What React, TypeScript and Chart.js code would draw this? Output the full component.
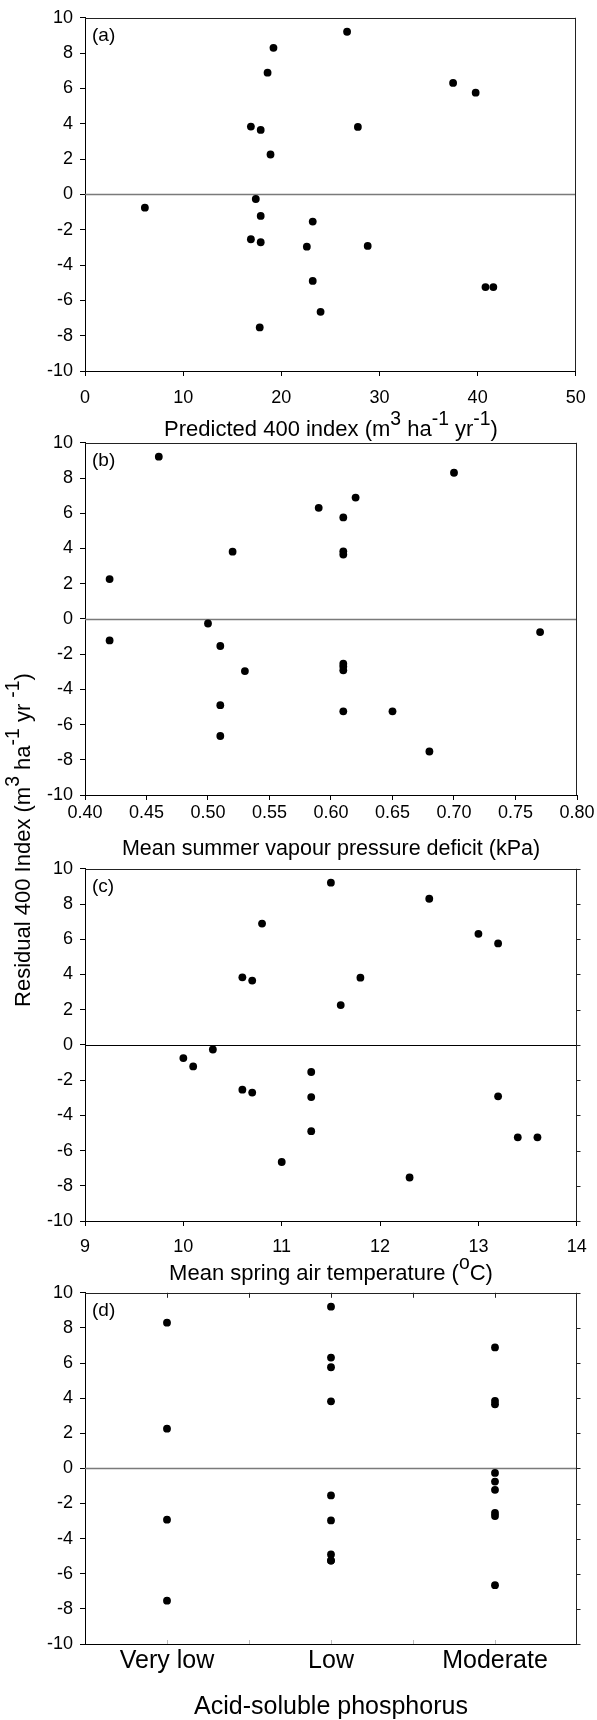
import React, { useEffect, useRef } from "react";
import { Chart, registerables } from "chart.js";

Chart.register(...registerables);

const FONT = "'Liberation Sans', Arial, Helvetica, sans-serif";

// ---- data (22 sites) ----
const residual400 = [9.21, 8.3, 6.89, 6.31, 5.76, 3.84, 3.65, 3.82, 2.26, -0.26, -0.75, -1.22, -1.54, -2.54, -2.71, -2.96, -2.92, -4.9, -5.25, -5.25, -6.65, -7.53];
const predicted400 = [26.7, 19.2, 18.6, 37.5, 39.8, 16.9, 17.9, 27.8, 18.9, 17.4, 6.1, 17.9, 23.2, 16.9, 17.9, 22.6, 28.8, 23.2, 40.8, 41.6, 24.0, 17.8];
const summerVpd = [0.46, 0.7, 0.62, 0.59, 0.61, 0.61, 0.61, 0.52, 0.42, 0.5, 0.77, 0.42, 0.51, 0.61, 0.61, 0.53, 0.61, 0.51, 0.61, 0.65, 0.51, 0.68];
const springTemp = [11.5, 12.5, 10.8, 13.0, 13.2, 10.6, 10.7, 11.8, 11.6, 10.3, 10.0, 10.1, 11.3, 10.6, 10.7, 11.3, 13.2, 11.3, 13.4, 13.6, 11.0, 12.3];
const phosphorusClass = ["Low", "Very low", "Moderate", "Low", "Low", "Moderate", "Moderate", "Low", "Very low", "Moderate", "Moderate", "Moderate", "Low", "Moderate", "Moderate", "Low", "Very low", "Low", "Low", "Low", "Moderate", "Very low"];
const phosphorusCategories = ["Very low", "Low", "Moderate"];

// axis ranges / tick steps
const residualRange = [-10, 10, 2];
const predictedRange = [0, 50, 10];
const vpdRange = [0.4, 0.8, 0.05];
const tempRange = [9, 14, 1];

type Seg = { t: string; sup?: boolean };

const CANVAS_W = 597;
const PLOT_LEFT = 85;
const PLOT_RIGHT = 577;
const TOP_PAD = 16;
const TICK_FONT = 18;

interface PanelSpec {
  label: string;
  xs: (number | string)[];
  category?: boolean;
  range?: number[];
  decimals?: number;
  plotTop: number;
  plotBottom: number;
  tickCenter: number;
  tickSize: number;
  title: Seg[];
  titleBaseline: number;
  titleSize: number;
  zeroColor: string;
  zeroWidth: number;
  rightTicks?: boolean;
  sixthTicks?: boolean;
}

const panels: PanelSpec[] = [
  {
    label: "(a)", xs: predicted400, range: predictedRange, decimals: 0,
    plotTop: 16, plotBottom: 371, tickCenter: 27, tickSize: TICK_FONT,
    title: [{ t: "Predicted 400 index (m" }, { t: "3", sup: true }, { t: " ha" }, { t: "-1", sup: true }, { t: " yr" }, { t: "-1", sup: true }, { t: ")" }],
    titleBaseline: 436, titleSize: 22, zeroColor: "#7a7a7a", zeroWidth: 1.5,
  },
  {
    label: "(b)", xs: summerVpd, range: vpdRange, decimals: 2,
    plotTop: 441, plotBottom: 795, tickCenter: 18, tickSize: TICK_FONT,
    title: [{ t: "Mean summer vapour pressure deficit (kPa)" }],
    titleBaseline: 855, titleSize: 21.5, zeroColor: "#7a7a7a", zeroWidth: 1.5,
  },
  {
    label: "(c)", xs: springTemp, range: tempRange, decimals: 0,
    plotTop: 867, plotBottom: 1221, tickCenter: 26, tickSize: TICK_FONT,
    title: [{ t: "Mean spring air temperature (" }, { t: "o", sup: true }, { t: "C)" }],
    titleBaseline: 1280, titleSize: 22, zeroColor: "#000000", zeroWidth: 1,
    rightTicks: true,
  },
  {
    label: "(d)", xs: phosphorusClass, category: true,
    plotTop: 1291, plotBottom: 1644, tickCenter: 17, tickSize: 25,
    title: [{ t: "Acid-soluble phosphorus" }],
    titleBaseline: 1714, titleSize: 25, zeroColor: "#7a7a7a", zeroWidth: 1.5,
    rightTicks: true, sixthTicks: true,
  },
];

function drawRich(ctx: CanvasRenderingContext2D, segs: Seg[], cx: number, baseline: number, size: number) {
  const supSize = size * 0.88;
  const rise = size * 0.5;
  const widths = segs.map((s) => {
    ctx.font = `${s.sup ? supSize : size}px ${FONT}`;
    return ctx.measureText(s.t).width;
  });
  const total = widths.reduce((a, b) => a + b, 0);
  let x = cx - total / 2;
  ctx.textAlign = "left";
  ctx.textBaseline = "alphabetic";
  ctx.fillStyle = "#000";
  segs.forEach((s, i) => {
    ctx.font = `${s.sup ? supSize : size}px ${FONT}`;
    ctx.fillText(s.t, x, s.sup ? baseline - rise : baseline);
    x += widths[i];
  });
}

function seg(ctx: CanvasRenderingContext2D, x1: number, y1: number, x2: number, y2: number) {
  ctx.beginPath();
  ctx.moveTo(x1, y1);
  ctx.lineTo(x2, y2);
  ctx.stroke();
}

function Panel({ spec }: { spec: PanelSpec }) {
  const ref = useRef<HTMLCanvasElement | null>(null);
  const T = spec.plotTop - TOP_PAD;
  const H = spec.titleBaseline + 10 - T;

  useEffect(() => {
    const canvas = ref.current;
    if (!canvas) return;
    const points = spec.xs.map((x, i) => ({ x, y: residual400[i] }));
    const xAxisHeight = H - (spec.plotBottom - T);
    const tickLen = 5;

    const decor = {
      id: "decor" + spec.label,
      beforeDatasetsDraw(chart: any) {
        const { ctx, chartArea: a, scales } = chart;
        ctx.save();
        const y0 = Math.round(scales.y.getPixelForValue(0)) + 0.5;
        ctx.strokeStyle = spec.zeroColor;
        ctx.lineWidth = spec.zeroWidth;
        seg(ctx, a.left, y0, a.right, y0);
        ctx.strokeStyle = "#222";
        ctx.lineWidth = 1;
        const top = Math.round(a.top) + 0.5;
        const right = Math.round(a.right) - 0.5;
        seg(ctx, a.left, top, a.right, top);
        seg(ctx, right, a.top, right, a.bottom);
        if (spec.rightTicks) {
          for (let v = residualRange[0]; v <= residualRange[1]; v += residualRange[2]) {
            const py = Math.round(scales.y.getPixelForValue(v)) + 0.5;
            seg(ctx, right, py, right + 4, py);
          }
        }
        if (spec.sixthTicks) {
          for (let k = 1; k <= 5; k++) {
            const px = Math.round(a.left + (k * (a.right - a.left)) / 6) + 0.5;
            ctx.strokeStyle = "#222";
            seg(ctx, px, a.top, px, a.top + 5);
            ctx.strokeStyle = "#bbb";
            seg(ctx, px, a.bottom, px, a.bottom - 4);
          }
        }
        ctx.restore();
      },
      afterDraw(chart: any) {
        const { ctx, chartArea: a } = chart;
        ctx.save();
        ctx.font = `19px ${FONT}`;
        ctx.fillStyle = "#000";
        ctx.textAlign = "left";
        ctx.textBaseline = "alphabetic";
        ctx.fillText(spec.label, a.left + 7, a.top + 23);
        drawRich(ctx, spec.title, (PLOT_LEFT + PLOT_RIGHT) / 2, spec.titleBaseline - T, spec.titleSize);
        ctx.restore();
      },
    };

    const lineHalf = (spec.tickSize * 1.2) / 2;
    const xScale: any = spec.category
      ? {
          type: "category",
          labels: phosphorusCategories,
          offset: true,
          grid: { display: false, drawTicks: false },
          border: { display: true, color: "#000", width: 1 },
          ticks: { font: { family: FONT, size: spec.tickSize }, color: "#000", padding: spec.tickCenter - lineHalf, maxRotation: 0, autoSkip: false },
          afterFit: (s: any) => { s.height = xAxisHeight; },
        }
      : {
          type: "linear",
          min: spec.range![0],
          max: spec.range![1],
          grid: { display: true, drawOnChartArea: false, drawTicks: true, tickLength: tickLen, color: "#000", lineWidth: 1 },
          border: { display: true, color: "#000", width: 1 },
          ticks: {
            stepSize: spec.range![2],
            font: { family: FONT, size: spec.tickSize },
            color: "#000",
            padding: spec.tickCenter - tickLen - lineHalf,
            maxRotation: 0,
            autoSkip: false,
            callback: (v: any) => Number(v).toFixed(spec.decimals),
          },
          afterFit: (s: any) => { s.height = xAxisHeight; },
        };

    const chart = new Chart(canvas, {
      type: "scatter",
      data: {
        datasets: [
          {
            data: points as any,
            backgroundColor: "#000",
            borderColor: "#000",
            borderWidth: 0,
            pointRadius: 3.9,
            pointHoverRadius: 3.9,
            pointStyle: "circle",
          },
        ],
      },
      options: {
        responsive: false,
        animation: false,
        devicePixelRatio: 1,
        layout: { padding: { top: TOP_PAD, right: CANVAS_W - PLOT_RIGHT, left: 0, bottom: 0 } },
        plugins: { legend: { display: false }, tooltip: { enabled: false } },
        scales: {
          x: xScale,
          y: {
            type: "linear",
            min: residualRange[0],
            max: residualRange[1],
            grid: { display: true, drawOnChartArea: false, drawTicks: true, tickLength: tickLen, color: "#000", lineWidth: 1 },
            border: { display: true, color: "#000", width: 1 },
            ticks: {
              stepSize: residualRange[2],
              font: { family: FONT, size: TICK_FONT },
              color: "#000",
              padding: 7,
              autoSkip: false,
            },
            afterFit: (s: any) => { s.width = PLOT_LEFT; },
          },
        },
      },
      plugins: [decor],
    });
    return () => chart.destroy();
  }, []);

  return (
    <canvas
      ref={ref}
      width={CANVAS_W}
      height={H}
      style={{ position: "absolute", left: 0, top: T, width: CANVAS_W, height: H }}
    />
  );
}

const supStyle: React.CSSProperties = { fontSize: "0.88em", position: "relative", top: "-0.57em" };

export default function App() {
  return (
    <div style={{ position: "absolute", left: 0, top: 0, width: CANVAS_W, height: 1720, background: "#fff", overflow: "hidden" }}>
      {panels.map((p) => (
        <Panel key={p.label} spec={p} />
      ))}
      <div
        style={{
          position: "absolute",
          left: 22.5 - 200,
          top: 840 - 11,
          width: 400,
          height: 22,
          lineHeight: "22px",
          fontSize: 22,
          fontFamily: FONT,
          textAlign: "center",
          whiteSpace: "nowrap",
          color: "#000",
          transform: "rotate(-90deg)",
        }}
      >
        Residual 400 Index (m<span style={supStyle}>3</span> ha<span style={supStyle}>-1</span> yr <span style={supStyle}>-1</span>)
      </div>
    </div>
  );
}
